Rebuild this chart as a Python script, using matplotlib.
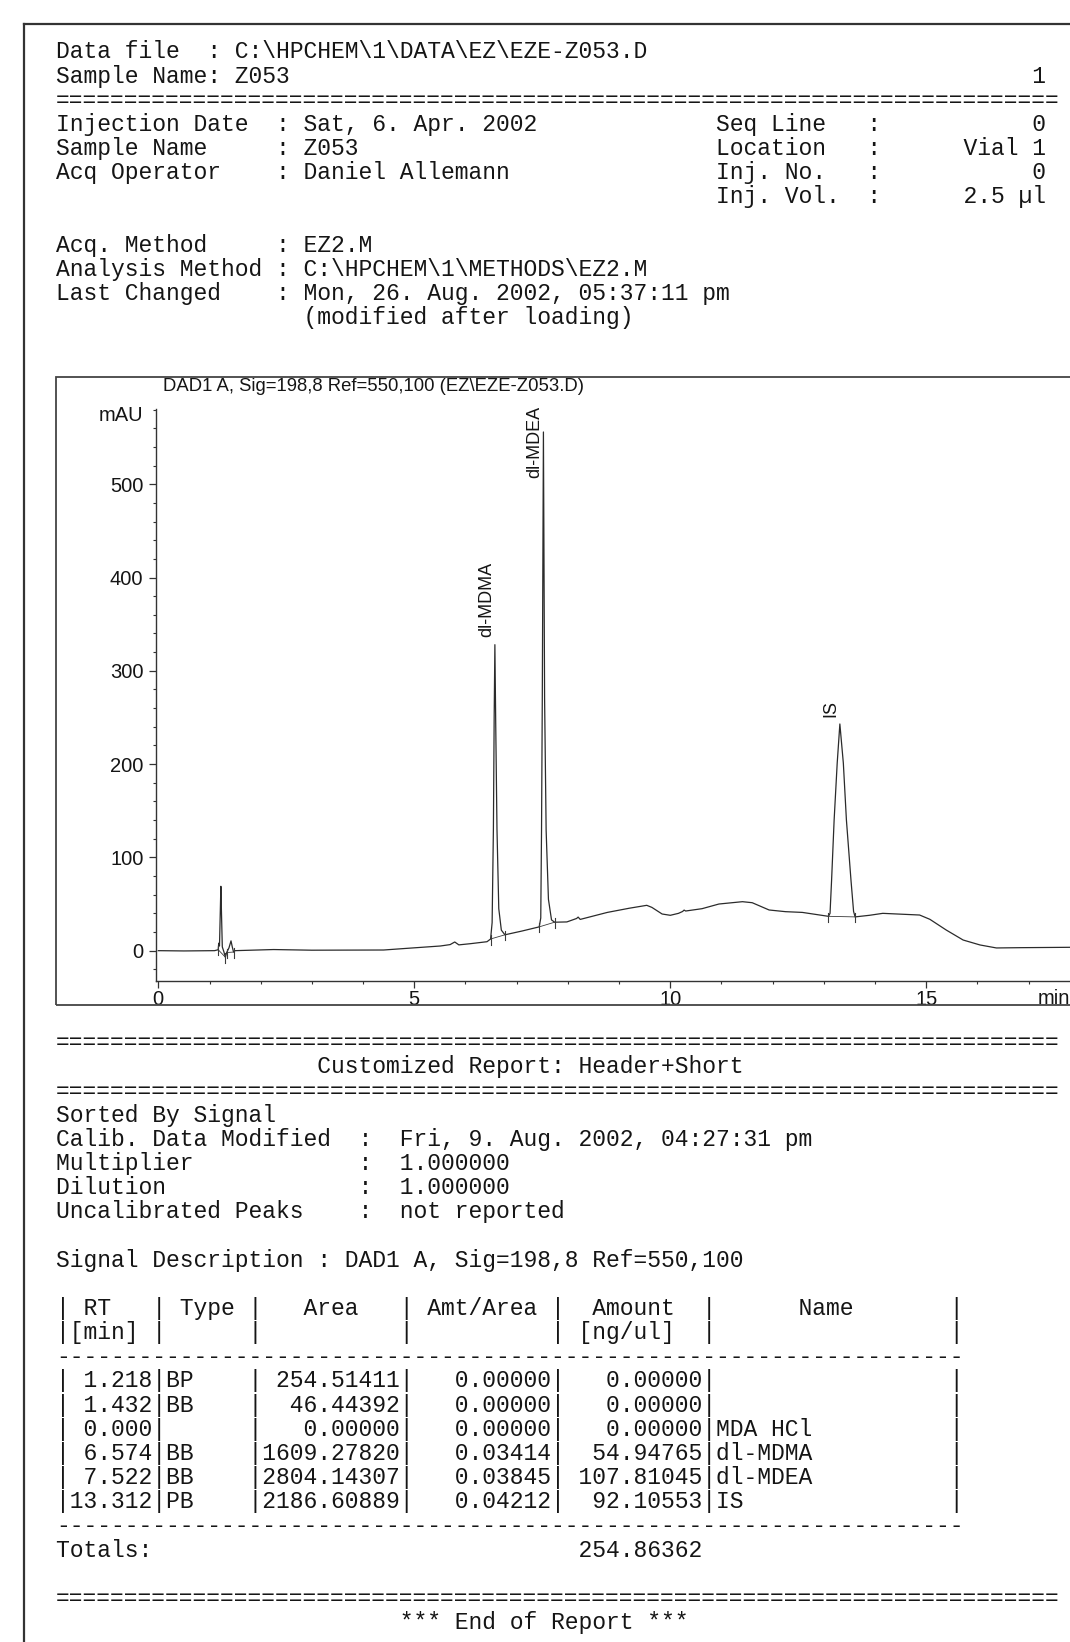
import matplotlib
matplotlib.use("Agg")
import matplotlib.pyplot as plt
from matplotlib.lines import Line2D
from matplotlib.patches import Rectangle
from matplotlib.ticker import MultipleLocator

# DAD1 A signal, read as (time [min], absorbance [mAU]) vertices
trace_time = [
    0.00, 0.50, 1.10, 1.17, 1.18, 1.195, 1.21, 1.222, 1.235, 1.25, 1.28,
    1.31, 1.335, 1.38, 1.42, 1.445, 1.47, 1.50, 2.25, 3.00, 4.40, 4.86,
    5.51, 5.70, 5.79, 5.87, 6.10, 6.42, 6.49, 6.52, 6.545, 6.56, 6.574,
    6.59, 6.615, 6.65, 6.70, 6.77, 7.10, 7.44, 7.47, 7.485, 7.50, 7.522,
    7.545, 7.575, 7.62, 7.68, 7.74, 7.98, 8.17, 8.20, 8.24, 8.77, 9.20,
    9.54, 9.64, 9.84, 10.00, 10.16, 10.24, 10.27, 10.30, 10.62, 10.95,
    11.41, 11.60, 11.93, 12.25, 12.58, 13.09, 13.12, 13.15, 13.20, 13.26,
    13.312, 13.38, 13.44, 13.53, 13.58, 13.61, 13.89, 14.15, 14.87, 15.07,
    15.39, 15.72, 16.05, 16.37, 16.83, 17.81,
]
trace_mau = [
    0.0, -0.3, 0.0, 1.0, 8.0, 5.0, 40.0, 69.0, 38.0, 4.0, -1.0,
    -7.0, -2.0, 3.0, 10.5, 4.0, -1.5, 0.0, 1.2, 0.5, 0.7, 2.5,
    5.0, 6.5, 9.3, 6.2, 7.5, 9.6, 12.5, 30.0, 130.0, 250.0, 328.0,
    245.0, 130.0, 45.0, 22.0, 17.0, 21.0, 25.5, 35.0, 129.0, 270.0, 556.0,
    270.0, 129.0, 55.0, 33.0, 30.5, 30.8, 34.5, 36.0, 33.5, 41.0, 45.5,
    48.6, 46.4, 39.3, 37.9, 40.0, 42.0, 43.5, 42.5, 45.0, 50.0,
    52.5, 51.4, 43.6, 41.8, 41.0, 36.8, 40.0, 75.0, 140.0, 201.0,
    243.0, 201.0, 140.0, 75.0, 42.0, 36.2, 37.9, 40.0, 38.2, 33.6,
    22.1, 11.4, 6.1, 2.9, 3.2, 3.6,
]

# integration results
peak_rt = [1.218, 1.432, 0.000, 6.574, 7.522, 13.312]
peak_type = ["BP", "BB", "", "BB", "BB", "PB"]
peak_area = [254.51411, 46.44392, 0.00000, 1609.27820, 2804.14307, 2186.60889]
amt_per_area = [0.00000, 0.00000, 0.00000, 0.03414, 0.03845, 0.04212]
amount = [0.00000, 0.00000, 0.00000, 54.94765, 107.81045, 92.10553]
compound = ["", "", "MDA HCl", "dl-MDMA", "dl-MDEA", "IS"]
total_amount = 254.86362

# integration baseline start / end points
base_start_t = [1.17, 1.335, 6.49, 7.44, 13.09]
base_start_y = [1.0, -2.0, 12.5, 25.5, 36.8]
base_end_t = [1.31, 1.47, 6.77, 7.74, 13.61]
base_end_y = [-7.0, -1.5, 17.0, 30.5, 36.2]

# report header
data_file = "C:\\HPCHEM\\1\\DATA\\EZ\\EZE-Z053.D"
sample_name = "Z053"
page_no = "1"
sample_fields = [
    ("Injection Date", "Sat, 6. Apr. 2002"),
    ("Sample Name", "Z053"),
    ("Acq Operator", "Daniel Allemann"),
]
vial_fields = [
    ("Seq Line", "0"),
    ("Location", "Vial 1"),
    ("Inj. No.", "0"),
    ("Inj. Vol.", "2.5 µl"),
]
method_fields = [
    ("Acq. Method", "EZ2.M"),
    ("Analysis Method", "C:\\HPCHEM\\1\\METHODS\\EZ2.M"),
    ("Last Changed", "Mon, 26. Aug. 2002, 05:37:11 pm"),
    ("", "(modified after loading)"),
]
calib_fields = [
    ("Calib. Data Modified", "Fri, 9. Aug. 2002, 04:27:31 pm"),
    ("Multiplier", "1.000000"),
    ("Dilution", "1.000000"),
    ("Uncalibrated Peaks", "not reported"),
]
signal_name = "DAD1 A, Sig=198,8 Ref=550,100"
plot_title = "DAD1 A, Sig=198,8 Ref=550,100 (EZ\\EZE-Z053.D)"

W, H = 1070, 1642
MONO = "Liberation Mono"
SANS = "Liberation Sans"
TEXT_X = 56
PITCH = 24.16
INK = "#151515"
LABEL_CEILING = 507
RULE = "=" * 73

plt.rcParams["font.family"] = SANS


def fx(px):
    return px / W


def fy(py):
    return 1 - py / H


def put_lines(fig, lines, first_baseline):
    for i, line in enumerate(lines):
        if line:
            fig.text(fx(TEXT_X), fy(first_baseline + i * PITCH), line,
                     family=MONO, size=16.56, color=INK,
                     ha="left", va="baseline")


def header_lines():
    left = [f"{k:<16}: {v}" for k, v in sample_fields]
    right = [f"{k:<11}:{v:>12}" for k, v in vial_fields]
    lines = [
        "Data file  : " + data_file,
        ("Sample Name: " + sample_name).ljust(71) + page_no,
        RULE,
    ]
    for i, r in enumerate(right):
        l = left[i] if i < len(left) else ""
        lines.append(l.ljust(48) + r)
    lines.append("")
    for k, v in method_fields:
        lines.append(f"{k:<16}: {v}" if k else " " * 18 + v)
    return lines


def report_lines():
    lines = [
        RULE,
        " " * 19 + "Customized Report: Header+Short",
        RULE,
        "Sorted By Signal",
    ]
    lines += [f"{k:<22}:  {v}" for k, v in calib_fields]
    lines += ["", "Signal Description : " + signal_name, ""]
    lines.append("| RT   | Type |   Area   | Amt/Area |  Amount  |      Name       |")
    lines.append("|[min] |      |          |          | [ng/ul]  |                 |")
    lines.append("-" * 66)
    for rt, typ, area, apa, amt, name in zip(peak_rt, peak_type, peak_area,
                                             amt_per_area, amount, compound):
        lines.append(f"|{rt:6.3f}|{typ:<6}|{area:10.5f}|{apa:10.5f}|"
                     f"{amt:10.5f}|{name:<17}|")
    lines.append("-" * 66)
    lines.append(f"{'Totals:':<37}{total_amount:10.5f}")
    lines += ["", RULE, " " * 25 + "*** End of Report ***"]
    return lines


fig = plt.figure(figsize=(W / 100, H / 100), dpi=100)
fig.patch.set_facecolor("white")

# page border
fig.add_artist(Line2D([fx(24), fx(24)], [0, fy(24)], color="#333333", lw=1.6))
fig.add_artist(Line2D([fx(24), 1], [fy(24), fy(24)], color="#333333", lw=1.6))

put_lines(fig, header_lines(), 58.5)
put_lines(fig, report_lines(), 1121.7 - 3 * PITCH)

# chromatogram frame and title
fig.add_artist(Rectangle((fx(56), fy(1005)), fx(1100 - 56), (1005 - 377) / H,
                         transform=fig.transFigure, fill=False,
                         ec="#444444", lw=1.3))
fig.text(fx(163), fy(391), plot_title, family=SANS, size=13.3,
         color=INK, ha="left", va="baseline")

ax = fig.add_axes([fx(156), fy(980.7), fx(1070 - 156), (980.7 - 409.5) / H])
ax.set_xlim(-0.045, 17.807)
ax.set_ylim(-32.2, 580.1)
ax.patch.set_alpha(0)
for side in ("top", "right"):
    ax.spines[side].set_visible(False)
for side in ("left", "bottom"):
    ax.spines[side].set_color("#333333")
    ax.spines[side].set_linewidth(1.0)

ax.xaxis.set_major_locator(MultipleLocator(5))
ax.xaxis.set_minor_locator(MultipleLocator(1))
ax.set_yticks([0, 100, 200, 300, 400, 500])
ax.yaxis.set_minor_locator(MultipleLocator(20))
ax.tick_params(which="major", length=5, width=0.9, color="#333333",
               labelsize=14.5, labelcolor=INK)
ax.tick_params(which="minor", length=2.5, width=0.8, color="#333333")
ax.tick_params(axis="y", which="major", pad=4)
ax.tick_params(axis="x", which="major", pad=2)

ax.annotate("mAU", xy=(0, 574), xycoords=("axes fraction", "data"),
            xytext=(-9, 0), textcoords="offset points", ha="right",
            va="center", size=14.5, color=INK)
ax.annotate("min", xy=(17.17, 0), xycoords=("data", "axes fraction"),
            xytext=(0, -6.3), textcoords="offset points", ha="left",
            va="top", size=14.5, color=INK, annotation_clip=False)

ax.plot(trace_time, trace_mau, color="#2b2b2b", lw=0.9)

# integration baselines with start / stop marks
for ts, ys, te, ye in zip(base_start_t, base_start_y, base_end_t, base_end_y):
    ax.plot([ts, te], [ys, ye], color="#3a3a3a", lw=0.6)
    ax.plot([ts, ts], [ys - 6, ys + 4], color="#3a3a3a", lw=0.8)
    ax.plot([te, te], [ye - 6, ye + 4], color="#3a3a3a", lw=0.8)

# compound labels above the identified peaks
for rt, name in zip(peak_rt, compound):
    if not name or rt <= 0:
        continue
    apex = max(y for t, y in zip(trace_time, trace_mau) if abs(t - rt) < 0.06)
    label_y = min(apex + 8, LABEL_CEILING)
    ax.annotate(name, xy=(rt, label_y), xytext=(-6.2, 0),
                textcoords="offset points", rotation=90, ha="center",
                va="bottom", size=13, color=INK, annotation_clip=False)

fig.savefig("out.png", dpi=100)
